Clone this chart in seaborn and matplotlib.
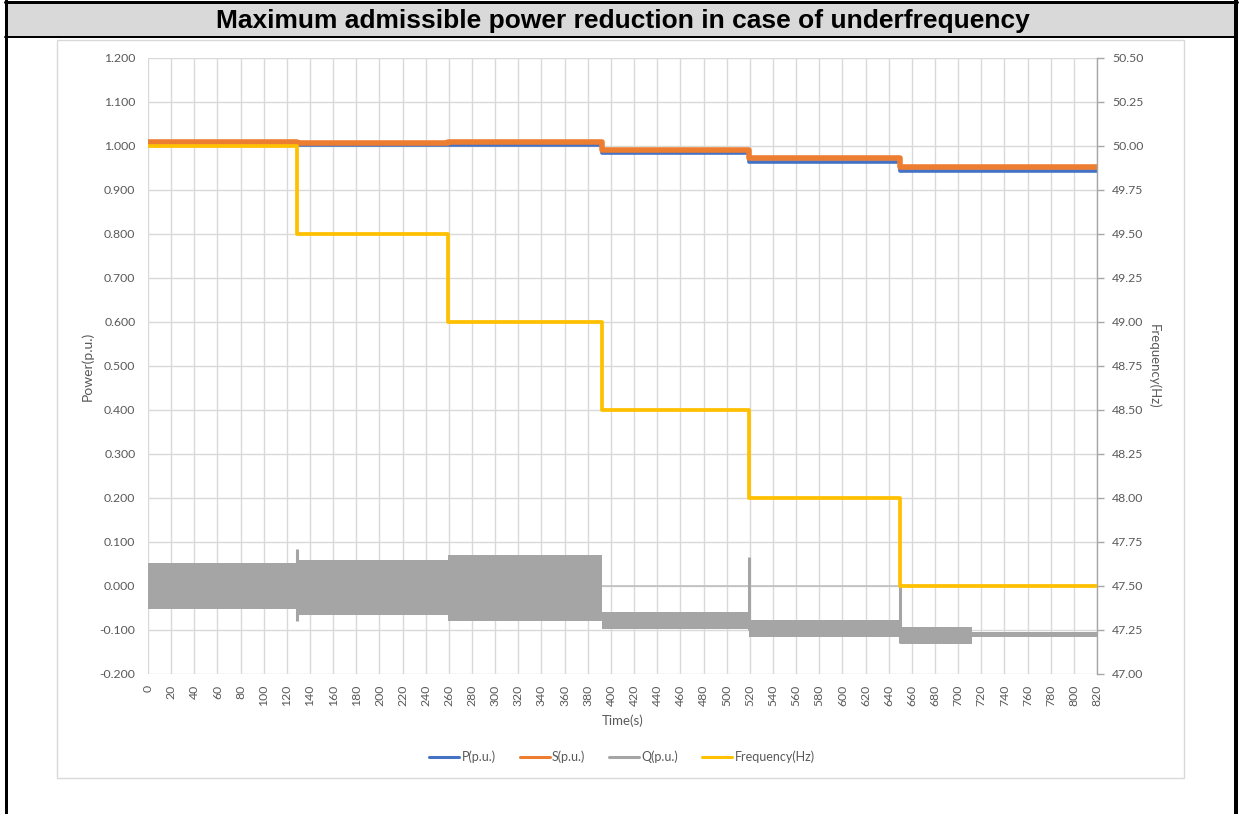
import matplotlib
matplotlib.use("Agg")
import matplotlib.pyplot as plt
import seaborn as sns
import pandas as pd
import numpy as np
from matplotlib.patches import Rectangle
from matplotlib.lines import Line2D

# ---------------- data ----------------
step_times = [0, 129, 259, 392, 519, 650, 820]
freq_hz = [50.0, 49.5, 49.0, 48.5, 48.0, 47.5]
s_pu = [1.008, 1.006, 1.008, 0.990, 0.972, 0.953]
p_pu = [1.002, 1.002, 1.002, 0.983, 0.963, 0.943]

q_times = [0, 129, 259, 392, 519, 650, 712, 820]
q_upper = [0.052, 0.060, 0.070, -0.058, -0.077, -0.093, -0.105]
q_lower = [-0.052, -0.065, -0.080, -0.097, -0.116, -0.132, -0.116]

spike_times = [129, 519, 650]
spike_top = [0.085, 0.065, 0.000]
spike_bottom = [-0.080, -0.100, -0.130]

x_ticks = list(range(0, 821, 20))
y_ticks = [-0.2, -0.1, 0.0, 0.1, 0.2, 0.3, 0.4, 0.5, 0.6, 0.7, 0.8, 0.9, 1.0, 1.1, 1.2]
y2_ticks = [47.00, 47.25, 47.50, 47.75, 48.00, 48.25, 48.50, 48.75, 49.00,
            49.25, 49.50, 49.75, 50.00, 50.25, 50.50]

title = "Maximum admissible power reduction in case of underfrequency"

# ---------------- style ----------------
sns.set_theme(style="white")
plt.rcParams["font.family"] = ["Lato", "DejaVu Sans"]

C_P = "#4472C4"
C_S = "#ED7D31"
C_Q = "#A5A5A5"
C_F = "#FFC000"
TXT = "#595959"
GRID = "#D9D9D9"
TICK_FS = 8.8

W, H = 1242, 814
fig = plt.figure(figsize=(W / 100, H / 100), dpi=100)
fig.patch.set_facecolor("white")

def fx(px):
    return px / W

def fy(py):
    return 1 - py / H

# outer table frame + header
fig.patches.append(Rectangle((fx(5), fy(37)), fx(1231), 34 / H, transform=fig.transFigure,
                             facecolor="#D9D9D9", edgecolor="none", zorder=0))
for (x0, y0, x1, y1, lw) in [(5, 2, 1237, 2, 3), (5, 37, 1237, 37, 2),
                             (6, 0, 6, 814, 3), (1236, 0, 1236, 814, 4)]:
    fig.add_artist(Line2D([fx(x0), fx(x1)], [fy(y0), fy(y1)], transform=fig.transFigure,
                          color="black", lw=lw * 0.72, zorder=1))
fig.text(fx(623), fy(21), title, ha="center", va="center", fontsize=19,
         fontweight="bold", family=["Liberation Sans", "DejaVu Sans"], color="black")

# chart frame
fig.patches.append(Rectangle((fx(57), fy(778)), fx(1184 - 57), (778 - 40) / H,
                             transform=fig.transFigure, facecolor="none",
                             edgecolor=GRID, lw=1.0, zorder=0))

ax = fig.add_axes([fx(148), fy(674), fx(1097 - 148), (674 - 58) / H])
ax.set_facecolor("none")

def step_df(times, vals):
    return pd.DataFrame({"t": times, "v": list(vals) + [vals[-1]]})

# Q band
qt = np.array(q_times)
ax.fill_between(qt, list(q_upper) + [q_upper[-1]], list(q_lower) + [q_lower[-1]],
                step="post", color=C_Q, lw=0, zorder=3)
ax.vlines(spike_times, spike_bottom, spike_top, color=C_Q, lw=2.2, zorder=3)

sns.lineplot(data=step_df(step_times, p_pu), x="t", y="v", ax=ax, color=C_P,
             lw=2.6, drawstyle="steps-post", zorder=4, legend=False)
sns.lineplot(data=step_df(step_times, s_pu), x="t", y="v", ax=ax, color=C_S,
             lw=4.0, drawstyle="steps-post", zorder=5, legend=False)

ax.set_xlim(0, 820)
ax.set_ylim(-0.2, 1.2)
ax.set_xticks(x_ticks)
ax.set_xticklabels([str(t) for t in x_ticks], rotation=90, fontsize=TICK_FS, color=TXT)
ax.set_yticks(y_ticks)
ax.set_yticklabels([f"{v:.3f}" for v in y_ticks], fontsize=TICK_FS, color=TXT)
ax.grid(True, color=GRID, lw=1.0, zorder=0)
ax.set_axisbelow(True)
ax.axhline(0, color="#BFBFBF", lw=1.2, zorder=2)
for sp in ax.spines.values():
    sp.set_visible(False)
ax.tick_params(axis="x", length=0, pad=8)
ax.tick_params(axis="y", length=0, pad=9)
ax.set_xlabel("Time(s)", fontsize=9.5, color=TXT, labelpad=6)
ax.set_ylabel("Power(p.u.)", fontsize=10, color=TXT, labelpad=4)

# secondary axis
ax2 = ax.twinx()
sns.lineplot(data=step_df(step_times, freq_hz), x="t", y="v", ax=ax2, color=C_F,
             lw=2.7, drawstyle="steps-post", zorder=6, legend=False)
ax2.set_xlim(0, 820)
ax2.set_ylim(47.0, 50.5)
ax2.set_yticks(y2_ticks)
ax2.set_yticklabels([f"{v:.2f}" for v in y2_ticks], fontsize=TICK_FS, color=TXT)
ax2.grid(False)
for name, sp in ax2.spines.items():
    sp.set_visible(name == "right")
ax2.spines["right"].set_color("#A6A6A6")
ax2.spines["right"].set_linewidth(1.0)
ax2.tick_params(axis="y", length=5, width=1.0, color="#A6A6A6", pad=6, direction="out")
ax2.set_ylabel("Frequency(Hz)", fontsize=9.5, color=TXT, rotation=270, labelpad=12)
ax2.set_xlabel("")

# legend
handles = [Line2D([], [], color=C_P, lw=2.2), Line2D([], [], color=C_S, lw=2.2),
           Line2D([], [], color=C_Q, lw=2.2), Line2D([], [], color=C_F, lw=2.2)]
labels = ["P(p.u.)", "S(p.u.)", "Q(p.u.)", "Frequency(Hz)"]
fig.legend(handles, labels, loc="center", bbox_to_anchor=(fx(622), fy(757)), ncol=4,
           frameon=False, fontsize=9, labelcolor=TXT, handlelength=2.4,
           handletextpad=0.2, columnspacing=1.9)

fig.savefig("out.png", dpi=100, facecolor="white")
